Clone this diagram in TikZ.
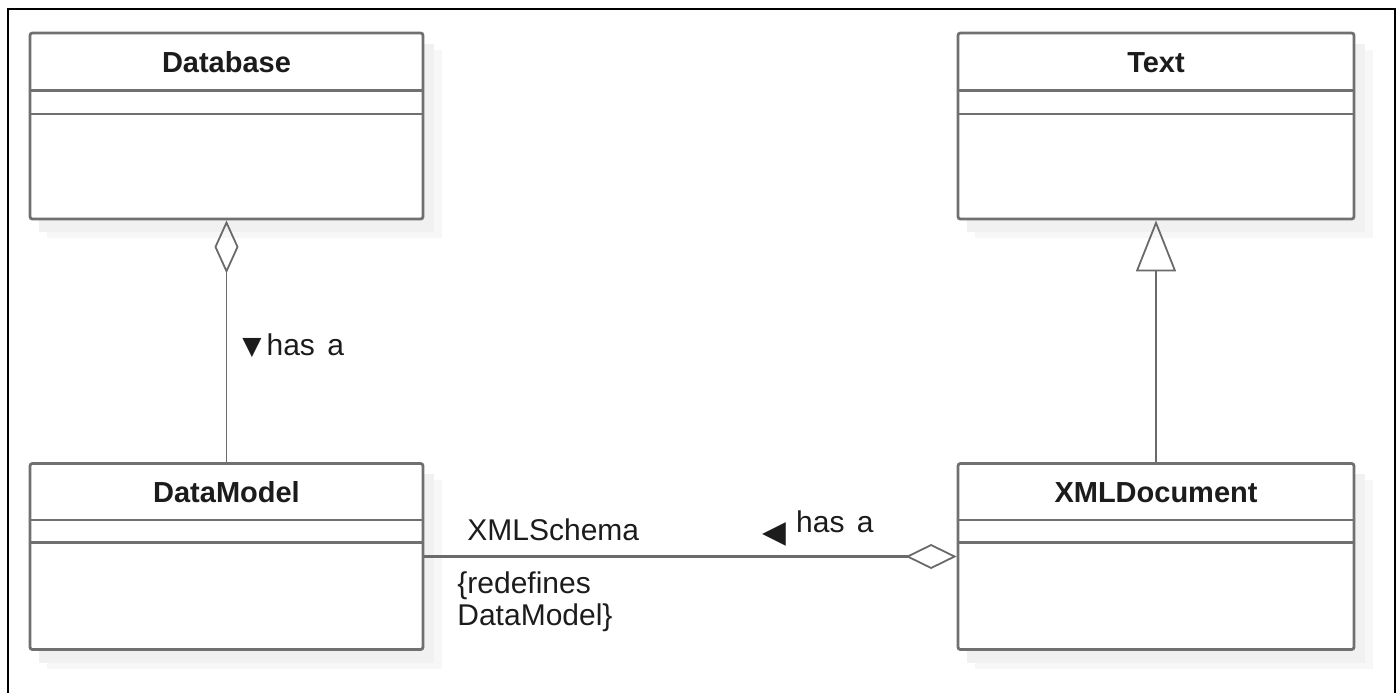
\documentclass[tikz,border=0pt]{standalone}
\usepackage{fontspec}
\setmainfont{Liberation Sans}
\newfontfamily\glyphfont{DejaVu Sans}
\usetikzlibrary{arrows.meta,backgrounds}
\definecolor{edgegray}{HTML}{707070}
\definecolor{linkgray}{HTML}{6A6A6A}
\definecolor{shadeA}{HTML}{F7F7F7}
\definecolor{shadeB}{HTML}{F1F1F1}
\definecolor{ink}{HTML}{1C1C1C}
\begin{document}
\begin{tikzpicture}[x=0.5pt,y=-0.5pt,
  classbox/.style={draw=edgegray, line width=1.4pt, rounded corners=1.2pt, fill=white,
    minimum width=196.5pt, minimum height=93pt, inner sep=0pt},
  classname/.style={anchor=base, font=\fontsize{14.5}{17}\selectfont\bfseries, text=ink, inner sep=0pt},
  thinsep/.style={draw=edgegray, line width=0.9pt},
  thicksep/.style={draw=edgegray, line width=1.4pt},
  link/.style={draw=linkgray, line width=1.4pt},
  thinlink/.style={draw=linkgray, line width=0.9pt},
  lbl/.style={font=\fontsize{15}{16}\selectfont, text=ink, inner sep=0pt},
]
\useasboundingbox (0,0) rectangle (1398,692);
% outer frame
\draw[line width=1pt] (8,700) -- (8,9) -- (1395,9) -- (1395,700);

% class boxes
\node[classbox] (db)  at (226.5,126)   {};
\node[classbox, minimum width=198pt] (txt) at (1156,126)    {};
\node[classbox] (dm)  at (226.5,556.5) {};
\node[classbox, minimum width=198pt] (xml) at (1156,556.5)  {};

% soft drop shadows
\begin{pgfonlayer}{background}
  \foreach \n in {db,txt,dm,xml}{
    \fill[shadeA] ([xshift=9pt,yshift=-9pt]\n.south west) rectangle ([xshift=9pt,yshift=-9pt]\n.north east);
    \fill[shadeB] ([xshift=5pt,yshift=-6pt]\n.south west) rectangle ([xshift=5pt,yshift=-6pt]\n.north east);
  }
\end{pgfonlayer}

% class names
\node[classname] (db-name)  at ([yshift=-20.5pt]db.north)  {Database};
\node[classname] (txt-name) at ([yshift=-20.5pt]txt.north) {Text};
\node[classname] (dm-name)  at ([yshift=-20pt]dm.north)  {DataModel};
\node[classname] (xml-name) at ([yshift=-20pt]xml.north) {XMLDocument};

% compartment separators
\draw[thicksep] ([yshift=-29.5pt]db.north west) -- ([yshift=-29.5pt]db.north east);
\draw[thinsep]  ([yshift=-41pt]db.north west) -- ([yshift=-41pt]db.north east);
\draw[thicksep] ([yshift=-29.5pt]txt.north west) -- ([yshift=-29.5pt]txt.north east);
\draw[thinsep]  ([yshift=-41pt]txt.north west) -- ([yshift=-41pt]txt.north east);
\draw[thinsep]  ([yshift=-29pt]dm.north west) -- ([yshift=-29pt]dm.north east);
\draw[thicksep] ([yshift=-40pt]dm.north west) -- ([yshift=-40pt]dm.north east);
\draw[thinsep]  ([yshift=-29pt]xml.north west) -- ([yshift=-29pt]xml.north east);
\draw[thicksep] ([yshift=-40pt]xml.north west) -- ([yshift=-40pt]xml.north east);

% associations
\draw[thinlink, {Diamond[open, length=26.5pt, width=12pt, line width=0.9pt]}-] (db.south) -- (dm.north);
\draw[link, -{Triangle[open, length=25.5pt, width=20pt, line width=0.9pt]}] (xml.north) -- (txt.south);
\draw[link, -{Diamond[open, length=25.5pt, width=12.5pt, line width=0.9pt]}] (dm.east) -- (xml.west);

% association labels
\node[lbl, anchor=base west] (has1) at (242,355)
  {\raisebox{0.5pt}{\glyphfont\fontsize{12.5}{12.5}\selectfont ▼}\hspace{2.5pt}has\hspace{2pt} a};
\node[lbl, anchor=base west] (has2) at (762,532)
  {\raisebox{-5pt}{\glyphfont\fontsize{15.5}{15.5}\selectfont ◀}\hspace{5pt}has\hspace{2pt} a};
\node[lbl, anchor=base west] (role) at (467,540) {XMLSchema};
\node[lbl, anchor=north west, align=left, font=\fontsize{15}{16}\selectfont] (constraint) at (457,571)
  {\{redefines\\DataModel\}};
\end{tikzpicture}
\end{document}
